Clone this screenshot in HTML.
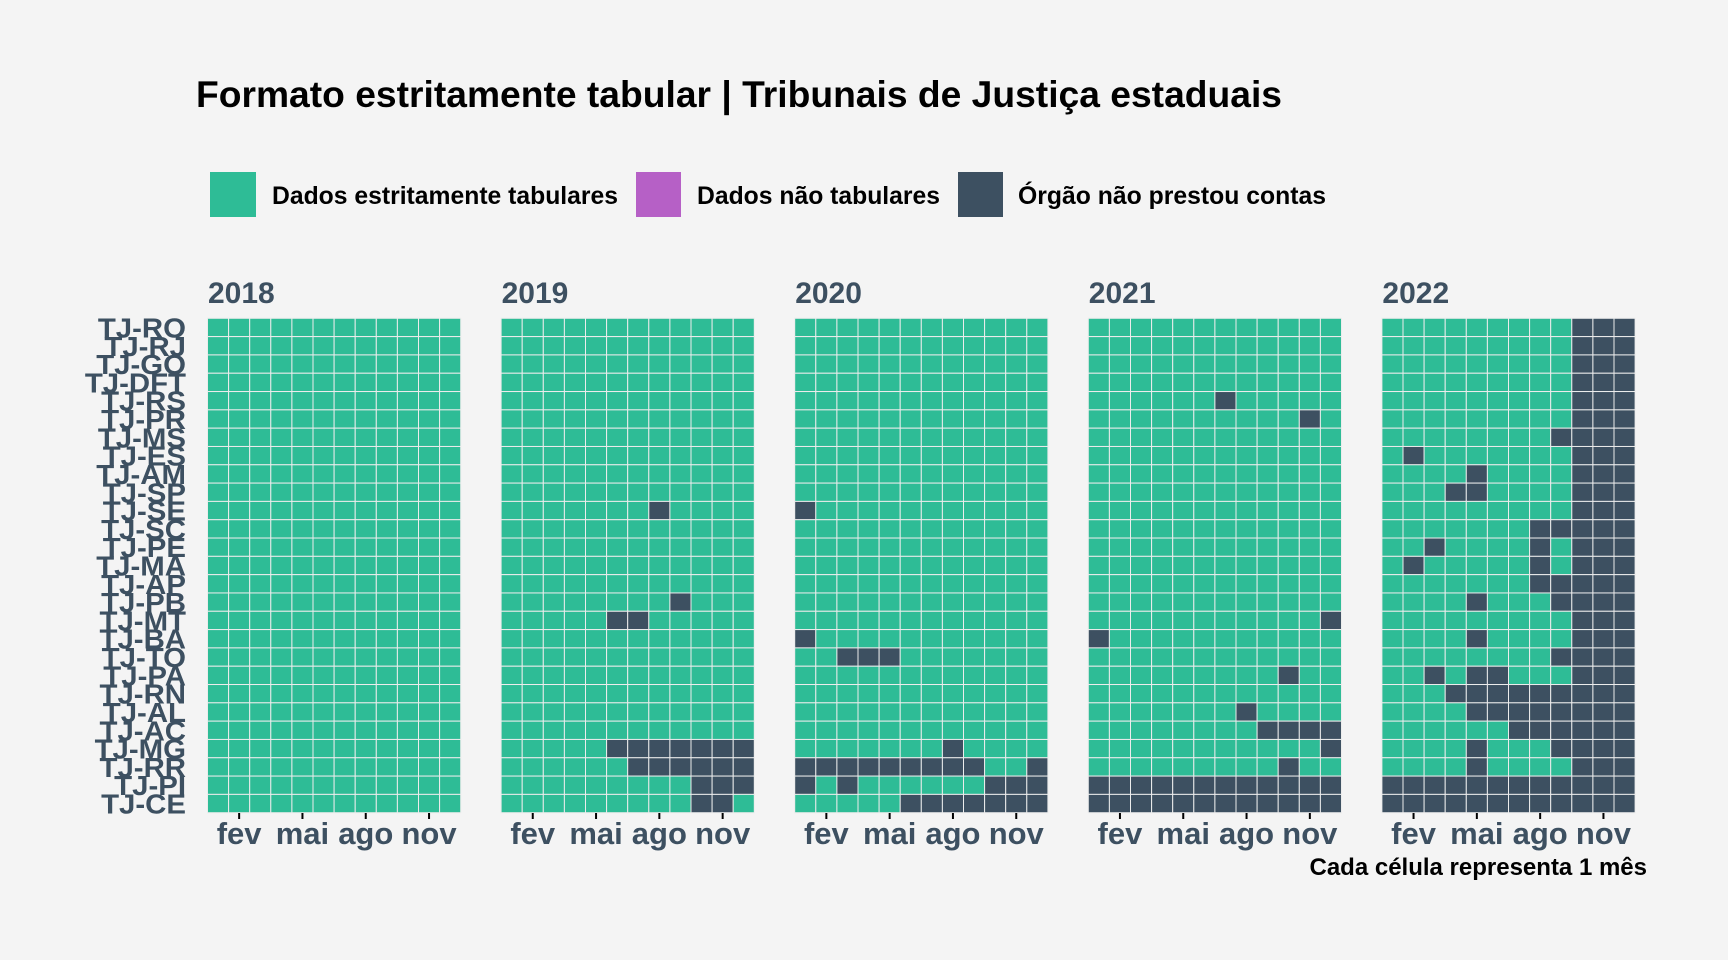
<!DOCTYPE html>
<html><head><meta charset="utf-8">
<style>
html,body{margin:0;padding:0;background:#f4f4f4;}
svg{display:block;font-family:"Liberation Sans",Arial,sans-serif;}
</style></head>
<body>
<svg id="chart" width="1728" height="960" viewBox="0 0 1728 960" xmlns="http://www.w3.org/2000/svg">
<rect x="0" y="0" width="1728" height="960" fill="#f4f4f4"/>
<text x="196" y="107" font-size="37" font-weight="bold" fill="#000" textLength="1086" lengthAdjust="spacingAndGlyphs">Formato estritamente tabular | Tribunais de Justiça estaduais</text>
<g>
  <rect x="210" y="172" width="46" height="45" fill="#2ebc96"/>
  <text x="272" y="204" font-size="25" font-weight="bold" fill="#000" textLength="346" lengthAdjust="spacingAndGlyphs">Dados estritamente tabulares</text>
  <rect x="636" y="172" width="45" height="45" fill="#b660c6"/>
  <text x="697" y="204" font-size="25" font-weight="bold" fill="#000" textLength="243" lengthAdjust="spacingAndGlyphs">Dados não tabulares</text>
  <rect x="958" y="172" width="45" height="45" fill="#3d5061"/>
  <text x="1018" y="204" font-size="25" font-weight="bold" fill="#000" textLength="308" lengthAdjust="spacingAndGlyphs">Órgão não prestou contas</text>
</g>
<g id="plot"></g>
<text x="1647" y="875" font-size="24" font-weight="bold" fill="#000" text-anchor="end">Cada célula representa 1 mês</text>
</svg>
<script>
const tribunals = ["TJ-RO","TJ-RJ","TJ-GO","TJ-DFT","TJ-RS","TJ-PR","TJ-MS","TJ-ES","TJ-AM","TJ-SP","TJ-SE","TJ-SC","TJ-PE","TJ-MA","TJ-AP","TJ-PB","TJ-MT","TJ-BA","TJ-TO","TJ-PA","TJ-RN","TJ-AL","TJ-AC","TJ-MG","TJ-RR","TJ-PI","TJ-CE"];
const years = ["2018","2019","2020","2021","2022"];
const monthTicks = [1,4,7,10];
const monthLabels = ["fev","mai","ago","nov"];
const missing2018 = [];
const missing2019 = [[10,[7]],[15,[8]],[16,[5,6]],[23,[5,6,7,8,9,10,11]],[24,[6,7,8,9,10,11]],[25,[9,10,11]],[26,[9,10]]];
const missing2020 = [[10,[0]],[17,[0]],[18,[2,3,4]],[23,[7]],[24,[0,1,2,3,4,5,6,7,8,11]],[25,[0,2,9,10,11]],[26,[5,6,7,8,9,10,11]]];
const missing2021 = [[4,[6]],[5,[10]],[16,[11]],[17,[0]],[19,[9]],[21,[7]],[22,[8,9,10,11]],[23,[11]],[24,[9]],[25,[0,1,2,3,4,5,6,7,8,9,10,11]],[26,[0,1,2,3,4,5,6,7,8,9,10,11]]];
const missing2022 = [[6,[8]],[7,[1]],[8,[4]],[9,[3,4]],[11,[7,8]],[12,[2,7]],[13,[1,7]],[14,[7,8]],[15,[4,8]],[17,[4]],[18,[8]],[19,[2,4,5]],[20,[3,4,5,6,7,8]],[21,[4,5,6,7,8]],[22,[6,7,8]],[23,[4,8]],[24,[4]],[25,[0,1,2,3,4,5,6,7,8]],[26,[0,1,2,3,4,5,6,7,8]]];
const allMissing = [missing2018, missing2019, missing2020, missing2021, missing2022];
const lateMonths2022 = [9,10,11];

const NS = "http://www.w3.org/2000/svg";
const plot = document.getElementById('plot');
const panelX0 = 207.5, panelStep = 293.6, panelW = 253.2;
const top0 = 318.3, bottom0 = 812.7;
const rowH = (bottom0 - top0) / tribunals.length;
const colW = panelW / 12;
function xScale(p, m){ return panelX0 + p*panelStep + m*colW; }
function yScale(r){ return top0 + r*rowH; }
function mk(tag, attrs){ const e=document.createElementNS(NS,tag); for(const k in attrs) e.setAttribute(k,attrs[k]); return e; }

tribunals.forEach((t,r)=>{
  const cy = yScale(r) + rowH/2 + 10;
  const tx = mk('text',{transform:`translate(186,${cy}) scale(1.05,1)`,'text-anchor':'end','font-size':'28','font-weight':'bold',fill:'#3d5061'});
  
  
  tx.textContent = t;
  plot.appendChild(tx);
});

years.forEach((yr,p)=>{
  const g = mk('g',{});
  
  
  const yl = mk('text',{x:xScale(p,0)+0.5,y:303,'font-size':'30','font-weight':'bold',fill:'#3d5061'});
  
  
  yl.textContent = yr;
  g.appendChild(yl);
  const miss = {};
  allMissing[p].forEach(([r,ms])=>{ miss[r]=new Set(ms); });
  for(let r=0;r<tribunals.length;r++){
    for(let m=0;m<12;m++){
      let dark = miss[r] && miss[r].has(m);
      if(p===4 && lateMonths2022.includes(m)) dark = true;
      const c = mk('rect',{x:xScale(p,m),y:yScale(r),width:colW,height:rowH,fill:dark?'#3d5061':'#2ebc96',stroke:'#ececec','stroke-width':'1'});
      
      
      g.appendChild(c);
    }
  }
  monthTicks.forEach((m,i)=>{
    const cx = xScale(p,m) + colW/2;
    const tk = mk('line',{x1:cx,x2:cx,y1:813,y2:819,stroke:'#000','stroke-width':'2'});
    
    
    g.appendChild(tk);
    const tl = mk('text',{x:cx,y:844,'text-anchor':'middle','font-size':'31','font-weight':'bold',fill:'#3d5061'});
    
    
    tl.textContent = monthLabels[i];
    g.appendChild(tl);
  });
  plot.appendChild(g);
});
</script>
</body></html>
